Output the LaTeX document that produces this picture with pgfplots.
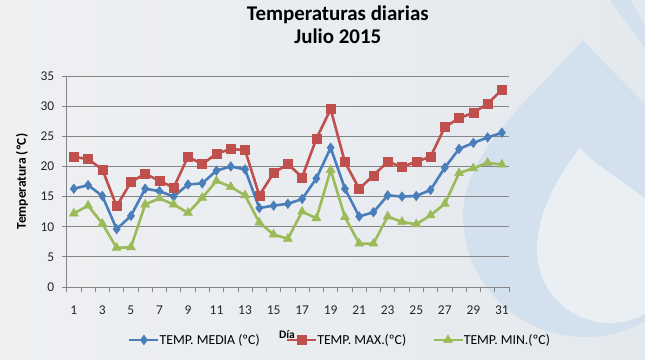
\documentclass[border=0pt]{standalone}
\usepackage{pgfplots}
\pgfplotsset{compat=1.18}
\usepackage{pgfplotstable}
\usepackage{fontspec}
\setmainfont{Carlito}
\definecolor{cmedia}{RGB}{74,126,187}
\definecolor{cmax}{RGB}{192,80,77}
\definecolor{cmin}{RGB}{155,187,89}
\definecolor{bgL}{RGB}{238,240,242}
\definecolor{bgR}{RGB}{228,233,238}
\definecolor{dropout}{RGB}{210,225,237}
\definecolor{dropin}{RGB}{234,239,244}
\definecolor{gridc}{RGB}{134,134,134}

\pgfplotstableread{
day media max min
1 16.3 21.6 12.2
2 16.9 21.2 13.5
3 15.1 19.5 10.5
4 9.6 13.4 6.5
5 11.8 17.4 6.6
6 16.3 18.8 13.7
7 15.9 17.6 14.7
8 15.0 16.5 13.7
9 17.0 21.6 12.3
10 17.2 20.4 14.8
11 19.3 22.1 17.6
12 20.0 22.9 16.6
13 19.5 22.7 15.2
14 13.1 15.2 10.7
15 13.5 18.9 8.7
16 13.8 20.4 8.0
17 14.6 18.2 12.5
18 18.0 24.6 11.4
19 23.1 29.5 19.4
20 16.3 20.7 11.6
21 11.7 16.3 7.2
22 12.4 18.5 7.2
23 15.2 20.8 11.7
24 15.0 19.9 10.8
25 15.1 20.8 10.4
26 16.1 21.6 11.9
27 19.8 26.5 13.8
28 22.9 28.0 18.9
29 23.9 28.9 19.7
30 24.8 30.4 20.6
31 25.6 32.7 20.3
}\data

\begin{document}
\begin{tikzpicture}
\useasboundingbox (0bp,0bp) rectangle (645bp,360bp);
\shade[left color=bgL, right color=bgR] (0bp,0bp) rectangle (645bp,360bp);
\fill[dropout] (610bp,360bp) -- (630bp,360bp) -- (645bp,335bp) -- (645bp,312bp) -- cycle;
\fill[dropout] (583bp,320bp) .. controls (540bp,270bp) and (463bp,210bp) .. (463bp,145bp)
  arc[start angle=180, end angle=360, radius=122bp]
  .. controls (707bp,210bp) and (626bp,270bp) .. (583bp,320bp) -- cycle;
\fill[dropin] (580bp,213bp) .. controls (560bp,185bp) and (537bp,150bp) .. (537bp,110bp)
  arc[start angle=180, end angle=360, radius=73bp]
  .. controls (683bp,150bp) and (600bp,185bp) .. (580bp,213bp) -- cycle;
\begin{axis}[
  at={(66.7bp,73bp)}, anchor=south west,
  scale only axis, width=442.3bp, height=211bp,
  xmin=0.5, xmax=31.5, ymin=0, ymax=35,
  ytick={0,5,...,35},
  xtick={1,3,...,31},
  minor xtick={0.5,1.5,...,31.5},
  axis x line*=bottom, axis y line*=left,
  axis line style={gridc, line width=0.8bp, -},
  ymajorgrids,
  major grid style={gridc, line width=0.8bp},
  tick style={gridc, line width=0.8bp},
  major x tick style={draw=none},
  tick align=outside,
  major tick length=5bp, minor tick length=5bp,
  /pgf/number format/assume math mode=true,
  tick label style={font=\fontsize{13.5}{15}\selectfont, text=black!85},
  xticklabel style={yshift=-10bp},
  yticklabel style={xshift=-4bp},
  title={Temperaturas diarias\\Julio 2015},
  title style={at={(rel axis cs:0.613,1.213)}, anchor=center, align=center,
    font=\fontsize{21}{23}\selectfont\bfseries},
  ylabel={Temperatura (ºC)},
  ylabel style={at={(rel axis cs:-0.101,0.5)}, anchor=center, rotate=0,
    font=\fontsize{13.5}{15}\selectfont\bfseries},
  xlabel={Día},
  xlabel style={at={(rel axis cs:0.498,-0.2275)}, anchor=center,
    font=\fontsize{11.5}{13}\selectfont\bfseries},
  legend style={at={(rel axis cs:0.618,-0.251)}, anchor=center, draw=none, fill=none,
    font=\fontsize{13.8}{15}\selectfont, legend columns=3,
    /tikz/every odd column/.append style={column sep=-2bp},
    /tikz/every even column/.append style={column sep=24bp}},
  legend image code/.code={\draw[mark repeat=2,mark phase=2] plot coordinates {(0bp,0bp) (14.5bp,0bp) (29bp,0bp)};},
  clip=false,
]
\addplot[cmedia, line width=2.6bp, mark=diamond*, mark size=4.8bp, mark options={solid, fill=cmedia, line width=0.5bp}] table[x=day,y=media]{\data};
\addlegendentry{TEMP. MEDIA (ºC)}
\addplot[cmax, line width=2.6bp, mark=square*, mark size=4.5bp, mark options={solid, fill=cmax, line width=0.5bp}] table[x=day,y=max]{\data};
\addlegendentry{TEMP. MAX.(ºC)}
\addplot[cmin, line width=2.6bp, mark=triangle*, mark size=5.2bp, mark options={solid, fill=cmin, line width=0.5bp}] table[x=day,y=min]{\data};
\addlegendentry{TEMP. MIN.(ºC)}
\end{axis}
\end{tikzpicture}
\end{document}
